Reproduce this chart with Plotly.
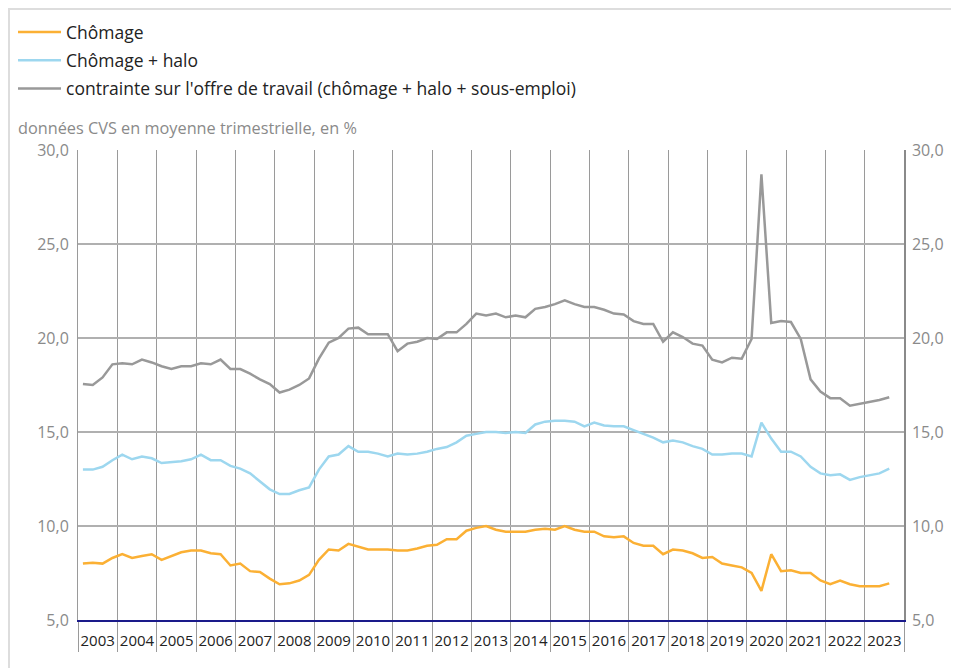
import plotly.graph_objects as go

# ---- data (quarterly, 2003T1 .. 2023T3) ----
years = list(range(2003, 2024))
year_labels = [str(y) for y in years]
quarters = [(y, q) for y in years for q in (1, 2, 3, 4)][:83]

chomage = [
    8.0, 8.05, 8.0, 8.3,
    8.5, 8.3, 8.4, 8.5,
    8.2, 8.4, 8.6, 8.7,
    8.7, 8.55, 8.5, 7.9,
    8.0, 7.6, 7.55, 7.2,
    6.9, 6.95, 7.1, 7.4,
    8.2, 8.75, 8.7, 9.05,
    8.9, 8.75, 8.75, 8.75,
    8.7, 8.7, 8.8, 8.95,
    9.0, 9.3, 9.3, 9.75,
    9.9, 10.0, 9.8, 9.7,
    9.7, 9.7, 9.8, 9.85,
    9.8, 10.0, 9.8, 9.7,
    9.7, 9.45, 9.4, 9.45,
    9.1, 8.95, 8.95, 8.5,
    8.75, 8.7, 8.55, 8.3,
    8.35, 8.0, 7.9, 7.8,
    7.5, 6.55, 8.5, 7.6,
    7.65, 7.5, 7.5, 7.1,
    6.9, 7.1, 6.9, 6.8,
    6.8, 6.8, 6.95,
]

chomage_halo = [
    13.0, 13.0, 13.15, 13.5,
    13.8, 13.55, 13.7, 13.6,
    13.35, 13.4, 13.45, 13.55,
    13.8, 13.5, 13.5, 13.2,
    13.05, 12.8, 12.35, 11.95,
    11.7, 11.7, 11.9, 12.05,
    13.0, 13.7, 13.8, 14.25,
    13.95, 13.95, 13.85, 13.7,
    13.85, 13.8, 13.85, 13.95,
    14.1, 14.2, 14.45, 14.8,
    14.9, 15.0, 15.0, 14.95,
    15.0, 14.95, 15.4, 15.55,
    15.6, 15.6, 15.55, 15.3,
    15.5, 15.35, 15.3, 15.3,
    15.1, 14.9, 14.7, 14.45,
    14.55, 14.45, 14.25, 14.1,
    13.8, 13.8, 13.85, 13.85,
    13.7, 15.5, 14.65, 13.95,
    13.95, 13.7, 13.15, 12.8,
    12.7, 12.75, 12.45, 12.6,
    12.7, 12.8, 13.05,
]

contrainte = [
    17.55, 17.5, 17.9, 18.6,
    18.65, 18.6, 18.85, 18.7,
    18.5, 18.35, 18.5, 18.5,
    18.65, 18.6, 18.85, 18.35,
    18.35, 18.1, 17.8, 17.55,
    17.1, 17.25, 17.5, 17.85,
    18.9, 19.75, 20.0, 20.5,
    20.55, 20.2, 20.2, 20.2,
    19.3, 19.7, 19.8, 20.0,
    19.95, 20.3, 20.3, 20.75,
    21.3, 21.2, 21.3, 21.1,
    21.2, 21.1, 21.55, 21.65,
    21.8, 22.0, 21.8, 21.65,
    21.65, 21.5, 21.3, 21.25,
    20.9, 20.75, 20.75, 19.8,
    20.3, 20.05, 19.7, 19.6,
    18.85, 18.7, 18.95, 18.9,
    19.95, 28.7, 20.8, 20.9,
    20.85, 19.95, 17.8, 17.15,
    16.8, 16.8, 16.4, 16.5,
    16.6, 16.7, 16.85,
]

x = [y + (q - 0.5) / 4 for (y, q) in quarters]

ORANGE = "#FBB034"
BLUE = "#9DD7EF"
GREY = "#999999"

fig = go.Figure()
fig.add_trace(go.Scatter(x=x, y=chomage, mode="lines", name="Chômage",
                         legendgroup="a", line=dict(color=ORANGE, width=2.5)))
fig.add_trace(go.Scatter(x=x, y=chomage_halo, mode="lines", name="Chômage + halo",
                         legendgroup="b", line=dict(color=BLUE, width=2.5)))
fig.add_trace(go.Scatter(x=x, y=contrainte, mode="lines",
                         name="contrainte sur l'offre de travail (chômage + halo + sous-emploi)",
                         legendgroup="c", line=dict(color=GREY, width=2.5)))
# invisible trace to show the right-hand axis
fig.add_trace(go.Scatter(x=[x[0]], y=[chomage[0]], yaxis="y2", mode="lines",
                         showlegend=False, hoverinfo="skip",
                         line=dict(color="rgba(0,0,0,0)")))

W, H = 951, 660
L, R, T, B = 70, 55, 142, 48
pw, ph = W - L - R, H - T - B


def px(xp):
    return (xp - L) / pw


def py(yp):
    return (H - B - yp) / ph


fig.update_layout(
    width=W, height=H,
    margin=dict(l=L, r=R, t=T, b=B, autoexpand=False),
    paper_bgcolor="white", plot_bgcolor="white",
    separators=", ",
    font=dict(family="Open Sans", color="#222222"),
    showlegend=True,
    legend=dict(x=px(5), y=py(6), xanchor="left", yanchor="top",
                font=dict(size=17.5, color="#222222"), bgcolor="rgba(0,0,0,0)",
                tracegroupgap=2.5, itemwidth=43),
    xaxis=dict(
        range=[2003, 2024], tickmode="array",
        tickvals=[y + 0.5 for y in years], ticktext=year_labels,
        ticks="", showgrid=False, zeroline=False,
        tickfont=dict(size=15, color="#222222"),
        showline=True, linecolor="#1a1a8a", linewidth=2,
        minor=dict(tickmode="array", tickvals=list(range(2003, 2025)),
                   showgrid=True, gridcolor="#9a9a9a", gridwidth=1,
                   ticks="outside", ticklen=30, tickcolor="#9a9a9a", tickwidth=1),
        ticklabelstandoff=6,
    ),
    yaxis=dict(
        range=[5, 30], tickmode="array", tickvals=[5, 10, 15, 20, 25, 30],
        tickformat=".1f", showgrid=True, gridcolor="#b0b0b0", gridwidth=1.5,
        zeroline=False, ticks="", tickfont=dict(size=16, color="#8a8a8a"),
        showline=True, linecolor="#9a9a9a", linewidth=1, ticklabelstandoff=5,
    ),
    yaxis2=dict(
        range=[5, 30], overlaying="y", side="right", tickmode="array",
        tickvals=[5, 10, 15, 20, 25, 30], tickformat=".1f", showgrid=False,
        zeroline=False, ticks="", tickfont=dict(size=16, color="#8a8a8a"),
        showline=True, linecolor="#8a8a8a", linewidth=1.5, ticklabelstandoff=3,
    ),
    annotations=[dict(
        text="données CVS en moyenne trimestrielle, en %",
        xref="paper", yref="paper", x=px(8), y=py(120),
        xanchor="left", yanchor="middle", showarrow=False,
        font=dict(size=16.3, color="#8a8a8a"),
    )],
    shapes=[
        dict(type="line", xref="paper", yref="paper", x0=px(0), x1=px(W + 5),
             y0=py(1), y1=py(1), line=dict(color="#dddddd", width=2)),
        dict(type="line", xref="paper", yref="paper", x0=px(1), x1=px(1),
             y0=py(0), y1=py(H + 5), line=dict(color="#dddddd", width=2)),
    ],
)

fig.write_html("out.html")
